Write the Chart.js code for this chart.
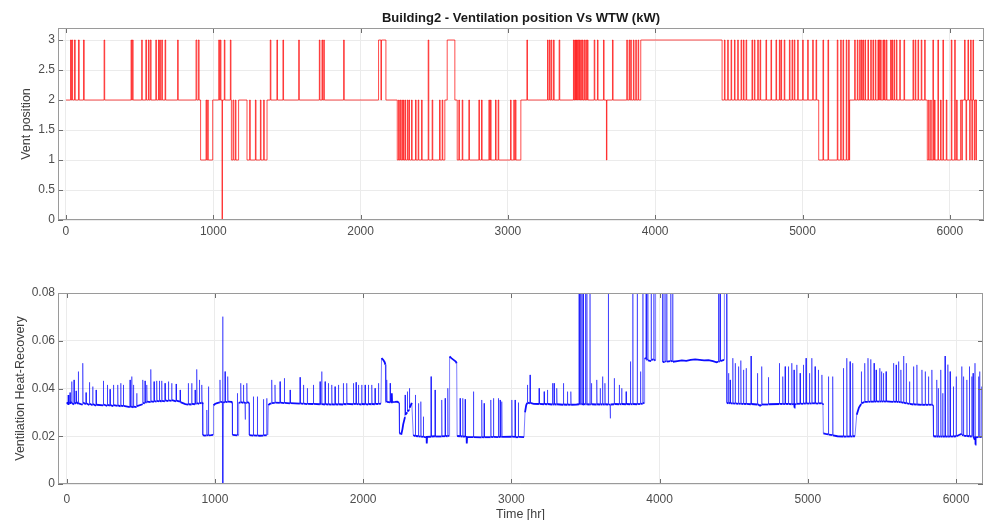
<!DOCTYPE html>
<html>
<head>
<meta charset="utf-8">
<title>Building2 - Ventilation position Vs WTW (kW)</title>
<script src="https://cdn.jsdelivr.net/npm/chart.js@4.4.1/dist/chart.umd.min.js"></script>
<style>
  html, body { margin: 0; padding: 0; background: #fff; overflow: hidden; }
  #wrap { position: relative; width: 985px; height: 520px; }
  #ventChart { position: absolute; left: 0; top: 0; }
  #wtwChart { position: absolute; left: 0; top: 262px; }
</style>
</head>
<body>
<div id="wrap">
  <canvas id="ventChart" width="985" height="262"></canvas>
  <canvas id="wtwChart" width="985" height="270"></canvas>
</div>
<script>
// tick labels
const hourTicks = [0, 1000, 2000, 3000, 4000, 5000, 6000];
const ventTicks = [0, 0.5, 1, 1.5, 2, 2.5, 3];
const wtwTicks = [0, 0.02, 0.04, 0.06, 0.08];

// vent position: [hour, level] – level holds until the next change
const ventSteps = [
  [0, 2], [31, 3], [36, 2], [40, 3], [45, 2], [58, 3], [63, 2], [85, 3], [90, 2], [119, 3], [124, 2],
  [259, 3], [263, 2], [442, 3], [446, 2], [451, 3], [456, 2], [514, 3], [518, 2], [542, 3], [547, 2],
  [560, 3], [564, 2], [573, 3], [578, 2], [610, 3], [614, 2], [628, 3], [632, 2], [637, 3], [641, 2],
  [650, 3], [655, 2], [673, 3], [677, 2], [758, 3], [762, 2], [883, 3], [888, 2], [899, 3], [904, 2],
  [914, 1], [951, 2], [955, 1], [962, 2], [966, 1], [996, 2],
  [1037, 3], [1042, 2], [1048, 3], [1052, 2], [1060, 0], [1062, 2], [1075, 3], [1079, 2], [1116, 3], [1120, 2],
  [1123, 1], [1134, 2], [1139, 1], [1150, 2], [1154, 1], [1172, 2],
  [1229, 1], [1247, 2], [1251, 1], [1286, 2], [1290, 1], [1320, 2], [1324, 1], [1342, 2], [1346, 1], [1365, 2],
  [1387, 3], [1391, 2], [1432, 3], [1436, 2], [1473, 3], [1477, 2], [1580, 3], [1584, 2],
  [1720, 3], [1724, 2], [1738, 3], [1742, 2], [1750, 3], [1754, 2], [1885, 3], [1889, 2],
  [2122, 3], [2138, 2], [2142, 3], [2172, 2],
  [2249, 1], [2258, 2], [2262, 1], [2268, 2], [2272, 1], [2280, 2], [2284, 1], [2290, 2], [2293, 1],
  [2301, 2], [2305, 1], [2317, 2], [2321, 1], [2328, 2], [2332, 1], [2346, 2], [2350, 1], [2373, 2], [2377, 1],
  [2391, 2], [2395, 1], [2414, 2], [2418, 1], [2459, 3], [2463, 1], [2486, 2], [2490, 1], [2536, 2], [2540, 1],
  [2554, 2], [2558, 1], [2572, 2], [2588, 3], [2640, 2], [2656, 1],
  [2667, 2], [2671, 1], [2690, 2], [2694, 1], [2735, 2], [2739, 1], [2803, 2], [2807, 1], [2821, 2], [2825, 1],
  [2871, 2], [2875, 1], [2882, 2], [2886, 1], [2916, 2], [2920, 1], [2934, 2], [2938, 1], [3018, 2], [3022, 1],
  [3040, 2], [3044, 1], [3051, 2], [3055, 1], [3088, 2],
  [3129, 3], [3133, 2], [3269, 3], [3273, 2], [3282, 3], [3286, 2], [3294, 3], [3298, 2], [3310, 3], [3314, 2],
  [3348, 3], [3352, 2], [3445, 3], [3449, 2], [3454, 3], [3458, 2], [3461, 3], [3465, 2], [3468, 3], [3472, 2],
  [3477, 3], [3481, 2], [3486, 3], [3490, 2], [3495, 3], [3499, 2], [3506, 3], [3510, 2], [3518, 3], [3522, 2],
  [3529, 3], [3533, 2], [3540, 3], [3544, 2], [3586, 3], [3590, 2], [3608, 3], [3612, 2], [3649, 3], [3653, 2],
  [3669, 1], [3672, 2], [3710, 3], [3714, 2], [3807, 3], [3811, 2], [3823, 3], [3827, 2], [3834, 3], [3838, 2],
  [3852, 3], [3856, 2], [3868, 3], [3872, 2], [3884, 3], [3888, 2], [3902, 3],
  [4454, 2], [4470, 3], [4474, 2], [4492, 3], [4496, 2], [4515, 3], [4519, 2], [4538, 3], [4542, 2],
  [4560, 3], [4564, 2], [4583, 3], [4587, 2], [4599, 3], [4603, 2], [4617, 3], [4621, 2], [4657, 3], [4661, 2],
  [4673, 3], [4677, 2], [4696, 3], [4700, 2], [4712, 3], [4716, 2], [4752, 3], [4756, 2], [4786, 3], [4790, 2],
  [4820, 3], [4824, 2], [4843, 3], [4847, 2], [4854, 3], [4858, 2], [4876, 3], [4880, 2], [4911, 3], [4915, 2],
  [4929, 3], [4933, 2], [4944, 3], [4948, 2], [4967, 3], [4971, 2], [5001, 3], [5005, 2], [5035, 3], [5039, 2],
  [5069, 3], [5073, 2], [5092, 3], [5096, 2],
  [5110, 1], [5139, 3], [5143, 1], [5173, 3], [5177, 1], [5236, 3], [5240, 1], [5259, 3], [5263, 1],
  [5275, 3], [5279, 1], [5297, 3], [5301, 1], [5313, 3], [5317, 1],
  [5320, 2], [5354, 3], [5358, 2], [5372, 3], [5376, 2], [5388, 3], [5392, 2], [5400, 3], [5404, 2],
  [5410, 3], [5414, 2], [5424, 3], [5428, 2], [5444, 3], [5448, 2], [5463, 3], [5467, 2], [5478, 3], [5482, 2],
  [5494, 3], [5498, 2], [5512, 3], [5516, 2], [5520, 3], [5524, 2], [5530, 3], [5534, 2], [5546, 3], [5550, 2],
  [5556, 3], [5560, 2], [5569, 3], [5573, 2], [5598, 3], [5602, 2], [5607, 3], [5611, 2], [5621, 3], [5625, 2],
  [5637, 3], [5641, 2], [5660, 3], [5664, 2], [5689, 3], [5693, 2], [5750, 3], [5754, 2], [5765, 3], [5769, 2],
  [5784, 3], [5788, 2], [5806, 3], [5810, 2], [5829, 3], [5833, 2],
  [5847, 1], [5856, 2], [5860, 1], [5870, 2], [5874, 1], [5885, 3], [5889, 1], [5896, 2], [5900, 1],
  [5919, 3], [5923, 1], [5937, 2], [5941, 1], [5953, 3], [5957, 1], [5976, 2], [5980, 1], [6010, 3], [6014, 1],
  [6033, 3], [6037, 1], [6046, 2], [6050, 1], [6073, 2], [6081, 1], [6085, 2], [6100, 3], [6104, 2], [6110, 1],
  [6114, 2], [6123, 3], [6127, 2], [6135, 1], [6138, 2], [6141, 3], [6145, 2], [6150, 1], [6153, 2], [6157, 3],
  [6161, 2], [6166, 1], [6170, 2], [6178, 1], [6180, 2], [6184, 2]
];

// WTW heat recovery: [hour, kW]
const wtwSeries = [
  [0, 0.0342], [10, 0.0335], [11, 0.0373], [13, 0.034], [21, 0.0338], [22, 0.0383], [24, 0.0336],
  [33, 0.0345], [34, 0.0429], [36, 0.034], [48, 0.0332], [49, 0.0436], [51, 0.0342], [62, 0.0336],
  [63, 0.039], [65, 0.0344], [77, 0.0335], [78, 0.0471], [80, 0.0338], [107, 0.0332], [108, 0.0506],
  [110, 0.0341], [129, 0.0334], [130, 0.0383], [132, 0.0338], [152, 0.0331], [153, 0.0426], [155, 0.0336],
  [174, 0.033], [175, 0.0408], [177, 0.0335], [197, 0.0328], [198, 0.0394], [200, 0.0332], [246, 0.0329],
  [247, 0.0432], [249, 0.0333], [273, 0.0327], [274, 0.0415], [276, 0.0331], [291, 0.0328], [292, 0.0397],
  [294, 0.033], [314, 0.0326], [315, 0.0415], [317, 0.033], [343, 0.0327], [344, 0.0415], [346, 0.0329],
  [363, 0.0325], [364, 0.0422], [366, 0.0328], [381, 0.0326], [382, 0.0415], [384, 0.0327], [426, 0.0322],
  [427, 0.0436], [429, 0.0326], [438, 0.0321], [439, 0.045], [441, 0.0325], [449, 0.032], [450, 0.0415],
  [452, 0.0324], [471, 0.0322], [472, 0.038], [474, 0.0326], [512, 0.0334], [513, 0.0436], [515, 0.034],
  [527, 0.0338], [528, 0.0432], [530, 0.0343], [539, 0.0341], [540, 0.0415], [542, 0.0345], [566, 0.0343],
  [567, 0.048], [569, 0.0346], [588, 0.0344], [589, 0.0429], [591, 0.0347], [606, 0.0345], [607, 0.0432],
  [609, 0.0348], [624, 0.0346], [625, 0.0432], [627, 0.0349], [640, 0.0345], [641, 0.0432], [643, 0.0348],
  [662, 0.0346], [663, 0.0422], [665, 0.035], [685, 0.0347], [686, 0.0429], [688, 0.035], [707, 0.0348],
  [708, 0.0422], [710, 0.0351], [737, 0.0346], [738, 0.0419], [740, 0.0349], [764, 0.0345], [765, 0.0394],
  [767, 0.0343], [800, 0.0335], [819, 0.0332], [820, 0.0422], [822, 0.0334], [842, 0.0333], [843, 0.0422],
  [845, 0.0336], [865, 0.0334], [866, 0.0394], [868, 0.0337], [876, 0.0336], [877, 0.048], [879, 0.0339],
  [894, 0.0336], [895, 0.0436], [897, 0.034], [910, 0.0338], [911, 0.0415], [913, 0.0341], [916, 0.034],
  [918, 0.0205], [930, 0.0203], [944, 0.0204], [945, 0.031], [947, 0.0205], [955, 0.0203], [956, 0.0408],
  [958, 0.0204], [975, 0.0205], [988, 0.0206], [990, 0.033], [1000, 0.0335], [1010, 0.0338], [1020, 0.034],
  [1033, 0.0342], [1034, 0.0436], [1036, 0.0343], [1050, 0.0344], [1052, 0.0701], [1054, 0], [1056, 0.0343],
  [1067, 0.0342], [1068, 0.0471], [1070, 0.0344], [1085, 0.0343], [1086, 0.045], [1088, 0.0345],
  [1112, 0.0344], [1117, 0.034], [1118, 0.0206], [1135, 0.0205], [1150, 0.0204], [1151, 0.038],
  [1153, 0.0205], [1158, 0.0206], [1160, 0.034], [1173, 0.0342], [1174, 0.0422], [1176, 0.0343],
  [1191, 0.034], [1192, 0.0415], [1194, 0.0342], [1203, 0.034], [1204, 0.027], [1206, 0.0338],
  [1214, 0.0341], [1215, 0.0422], [1217, 0.0343], [1230, 0.034],
  [1232, 0.0205], [1245, 0.0204], [1258, 0.0203], [1259, 0.0366], [1261, 0.0204], [1285, 0.0203],
  [1286, 0.0366], [1288, 0.0204], [1300, 0.0202], [1326, 0.0203], [1327, 0.0355], [1329, 0.0204],
  [1349, 0.0204], [1350, 0.0359], [1352, 0.0205], [1357, 0.0205],
  [1360, 0.033], [1370, 0.0336], [1382, 0.0338], [1383, 0.0436], [1385, 0.0339], [1404, 0.034],
  [1405, 0.0415], [1407, 0.0341], [1438, 0.034], [1439, 0.0429], [1441, 0.0341], [1467, 0.0339],
  [1468, 0.0443], [1470, 0.034], [1506, 0.0338], [1507, 0.0394], [1509, 0.0339], [1573, 0.0337],
  [1574, 0.0447], [1576, 0.0338], [1596, 0.0336], [1597, 0.0415], [1599, 0.0337], [1622, 0.0335],
  [1623, 0.0401], [1625, 0.0336], [1663, 0.0335], [1664, 0.0415], [1666, 0.0336], [1708, 0.0334],
  [1709, 0.0429], [1711, 0.0335], [1719, 0.0334], [1720, 0.0471], [1722, 0.0335], [1742, 0.0333],
  [1743, 0.0429], [1745, 0.0335], [1764, 0.0333], [1765, 0.0422], [1767, 0.0334], [1787, 0.0332],
  [1788, 0.0415], [1790, 0.0334], [1809, 0.0332], [1810, 0.0408], [1812, 0.0334], [1832, 0.0333],
  [1833, 0.0415], [1835, 0.0334], [1865, 0.0333], [1866, 0.0422], [1868, 0.0335], [1888, 0.0334],
  [1889, 0.0422], [1891, 0.0336], [1933, 0.0334], [1934, 0.0422], [1936, 0.0336], [1951, 0.0335],
  [1952, 0.0426], [1954, 0.0336], [1967, 0.0334], [1968, 0.0415], [1970, 0.0335], [1989, 0.0333],
  [1990, 0.0415], [1992, 0.0335], [2012, 0.0334], [2013, 0.0415], [2015, 0.0335], [2034, 0.0333],
  [2035, 0.0415], [2037, 0.0335], [2057, 0.0334], [2058, 0.0415], [2060, 0.0335], [2079, 0.0334],
  [2080, 0.0401], [2082, 0.0336], [2102, 0.0335], [2103, 0.0422], [2105, 0.0336], [2120, 0.0337],
  [2124, 0.0527], [2135, 0.052], [2145, 0.051], [2150, 0.05], [2153, 0.0345], [2158, 0.0343],
  [2159, 0.0436], [2161, 0.0344], [2181, 0.0342], [2182, 0.0422], [2184, 0.0343], [2192, 0.0342],
  [2193, 0.038], [2195, 0.0343], [2215, 0.0344], [2230, 0.0345], [2242, 0.034],
  [2245, 0.0212], [2258, 0.021], [2265, 0.023], [2270, 0.025], [2282, 0.028], [2283, 0.0373],
  [2285, 0.029], [2297, 0.03], [2298, 0.0387], [2300, 0.0305], [2311, 0.031], [2312, 0.0401],
  [2314, 0.032], [2328, 0.034], [2338, 0.0205],
  [2351, 0.02], [2352, 0.0373], [2354, 0.0201], [2372, 0.02], [2373, 0.0338], [2375, 0.0199],
  [2388, 0.0199], [2389, 0.0345], [2391, 0.0198], [2405, 0.0198], [2406, 0.0282], [2408, 0.0197],
  [2428, 0.0195], [2429, 0.017], [2431, 0.0197], [2457, 0.0198], [2458, 0.045], [2460, 0.0199],
  [2484, 0.02], [2485, 0.0394], [2487, 0.0199], [2529, 0.0199], [2530, 0.0352], [2532, 0.02],
  [2552, 0.02], [2553, 0.0359], [2555, 0.0201], [2570, 0.02], [2571, 0.0401], [2573, 0.0201], [2580, 0.0202],
  [2583, 0.0534], [2595, 0.0527], [2610, 0.052], [2625, 0.0513], [2631, 0.0505],
  [2634, 0.0201], [2653, 0.02], [2654, 0.0359], [2656, 0.02], [2671, 0.0199], [2672, 0.0359],
  [2674, 0.0199], [2687, 0.0198], [2688, 0.0355], [2690, 0.0198], [2698, 0.0197], [2699, 0.017],
  [2701, 0.0197], [2743, 0.0196], [2744, 0.0387], [2746, 0.0196], [2799, 0.0195], [2800, 0.0352],
  [2802, 0.0196], [2815, 0.0195], [2816, 0.0338], [2818, 0.0196], [2860, 0.0196], [2861, 0.0352],
  [2863, 0.0197], [2878, 0.0196], [2879, 0.0359], [2881, 0.0197], [2911, 0.0196], [2912, 0.0359],
  [2914, 0.0197], [2923, 0.0196], [2924, 0.0352], [2926, 0.0197], [2934, 0.0196], [2935, 0.0345],
  [2937, 0.0197], [3002, 0.0198], [3003, 0.0352], [3005, 0.0198], [3024, 0.0197], [3025, 0.0352],
  [3027, 0.0196], [3046, 0.0196], [3047, 0.0341], [3049, 0.0197], [3085, 0.0196],
  [3092, 0.03], [3100, 0.033], [3107, 0.034], [3108, 0.0415], [3110, 0.0341], [3125, 0.0338],
  [3126, 0.0457], [3128, 0.034], [3150, 0.0336], [3186, 0.0335], [3187, 0.0401], [3189, 0.0336],
  [3220, 0.0334], [3221, 0.0387], [3223, 0.0335], [3242, 0.0334], [3243, 0.0394], [3245, 0.0335],
  [3276, 0.0333], [3277, 0.0422], [3279, 0.0334], [3287, 0.0333], [3288, 0.0422], [3290, 0.0334],
  [3305, 0.0333], [3306, 0.0401], [3308, 0.0334], [3350, 0.0332], [3351, 0.0422], [3353, 0.0333],
  [3377, 0.0332], [3378, 0.0387], [3380, 0.0333], [3400, 0.0331], [3401, 0.0387], [3403, 0.0332],
  [3440, 0.0333], [3456, 0.0334], [3457, 0.15], [3459, 0.0334], [3465, 0.0335], [3466, 0.15],
  [3468, 0.0335], [3474, 0.0334], [3475, 0.15], [3477, 0.0335], [3483, 0.0334], [3484, 0.15],
  [3486, 0.0335], [3499, 0.0334], [3500, 0.15], [3502, 0.0334], [3508, 0.0333], [3509, 0.15],
  [3511, 0.0334], [3529, 0.0333], [3530, 0.15], [3532, 0.0334], [3539, 0.0333], [3540, 0.0422],
  [3542, 0.0334], [3575, 0.0333], [3576, 0.0436], [3578, 0.0334], [3598, 0.0333], [3599, 0.0401],
  [3601, 0.0334], [3614, 0.0333], [3615, 0.045], [3617, 0.0334], [3630, 0.0333], [3631, 0.0422],
  [3633, 0.0334], [3653, 0.0333], [3654, 0.15], [3656, 0.0334], [3666, 0.0332], [3667, 0.0275],
  [3669, 0.0333], [3693, 0.0334], [3694, 0.0443], [3696, 0.0335], [3727, 0.0334], [3728, 0.0415],
  [3730, 0.0335], [3743, 0.0334], [3744, 0.0401], [3746, 0.0335], [3773, 0.0334], [3774, 0.0387],
  [3776, 0.0335], [3802, 0.0334], [3803, 0.0513], [3805, 0.0335], [3818, 0.0334], [3819, 0.15],
  [3821, 0.0335], [3848, 0.0334], [3849, 0.15], [3851, 0.0335], [3870, 0.0335], [3871, 0.0471],
  [3873, 0.0336], [3886, 0.0336], [3887, 0.15], [3889, 0.0337], [3896, 0.034],
  [3899, 0.0527], [3908, 0.0525], [3909, 0.15], [3911, 0.0522], [3919, 0.052], [3920, 0.15],
  [3922, 0.0518], [3942, 0.0515], [3943, 0.15], [3945, 0.052], [3960, 0.0522], [3961, 0.15],
  [3963, 0.0518], [3972, 0.052], [3973, 0.15], [4020, 0.15], [4022, 0.051], [4034, 0.0512],
  [4036, 0.15], [4038, 0.0512], [4046, 0.0514], [4048, 0.15], [4050, 0.0513], [4073, 0.0515],
  [4075, 0.15], [4077, 0.0514], [4086, 0.0516], [4088, 0.15], [4090, 0.0512], [4120, 0.0515],
  [4150, 0.0518], [4180, 0.0516], [4210, 0.052], [4240, 0.0522], [4270, 0.052], [4300, 0.0518],
  [4330, 0.0519], [4360, 0.0515], [4385, 0.051], [4396, 0.0512], [4397, 0.15], [4399, 0.0512],
  [4406, 0.0514], [4408, 0.15], [4410, 0.0515], [4435, 0.052], [4437, 0.15], [4449, 0.15], [4454, 0.034],
  [4464, 0.0338], [4465, 0.0464], [4467, 0.034], [4475, 0.0338], [4476, 0.0436], [4478, 0.0339],
  [4493, 0.0337], [4494, 0.0527], [4496, 0.0338], [4509, 0.0337], [4510, 0.0506], [4512, 0.0338],
  [4531, 0.0336], [4532, 0.0492], [4534, 0.0337], [4547, 0.0336], [4548, 0.0517], [4550, 0.0337],
  [4565, 0.0335], [4566, 0.0478], [4568, 0.0336], [4583, 0.0335], [4584, 0.0485], [4586, 0.0336],
  [4616, 0.0334], [4617, 0.0536], [4619, 0.0335], [4659, 0.0333], [4660, 0.0464], [4662, 0.0334],
  [4678, 0.0328], [4688, 0.0332], [4689, 0.0492], [4691, 0.0333], [4733, 0.0333], [4734, 0.0447],
  [4736, 0.0334], [4807, 0.0335], [4808, 0.0506], [4810, 0.0336], [4830, 0.0335], [4831, 0.045],
  [4833, 0.0336], [4846, 0.0335], [4847, 0.0492], [4849, 0.0336], [4868, 0.0335], [4869, 0.0492],
  [4871, 0.0336], [4891, 0.0334], [4892, 0.0506], [4894, 0.0335], [4906, 0.0334], [4907, 0.0478],
  [4909, 0.032], [4911, 0.0334], [4924, 0.0335], [4925, 0.0499], [4927, 0.0336], [4947, 0.0336],
  [4948, 0.0464], [4950, 0.0337], [4969, 0.0336], [4970, 0.0499], [4972, 0.0337], [4987, 0.0337],
  [4988, 0.0527], [4990, 0.0338], [5010, 0.0337], [5011, 0.0464], [5013, 0.0338], [5026, 0.0337],
  [5027, 0.0527], [5029, 0.0338], [5048, 0.0338], [5049, 0.0492], [5051, 0.0338], [5070, 0.0337],
  [5071, 0.0478], [5073, 0.0338], [5094, 0.0338], [5095, 0.0457], [5097, 0.0337], [5102, 0.0336],
  [5105, 0.0212], [5120, 0.021], [5138, 0.0208], [5139, 0.045], [5141, 0.0207], [5167, 0.0205],
  [5168, 0.045], [5170, 0.0204], [5200, 0.02], [5239, 0.0199], [5240, 0.0485], [5242, 0.0199],
  [5262, 0.0198], [5263, 0.0527], [5265, 0.0199], [5284, 0.0199], [5285, 0.0513], [5287, 0.0199],
  [5302, 0.0199], [5303, 0.0506], [5305, 0.02], [5318, 0.02],
  [5330, 0.029], [5345, 0.032], [5360, 0.0335], [5361, 0.0471], [5363, 0.0338], [5376, 0.0342],
  [5383, 0.0343], [5384, 0.0506], [5386, 0.0344], [5405, 0.0344], [5406, 0.0527], [5408, 0.0345],
  [5423, 0.0344], [5424, 0.0522], [5426, 0.0345], [5446, 0.0345], [5447, 0.0506], [5449, 0.0345],
  [5460, 0.0345], [5461, 0.0478], [5463, 0.0346], [5484, 0.0345], [5485, 0.0485], [5487, 0.0346],
  [5496, 0.0345], [5497, 0.0471], [5499, 0.0346], [5509, 0.0345], [5510, 0.0464], [5512, 0.0346],
  [5527, 0.0345], [5528, 0.0471], [5530, 0.0346], [5577, 0.0344], [5578, 0.0506], [5580, 0.0345],
  [5595, 0.0344], [5596, 0.0499], [5598, 0.0345], [5611, 0.0343], [5612, 0.0513], [5614, 0.0344],
  [5627, 0.0342], [5628, 0.0478], [5630, 0.0343], [5645, 0.034], [5646, 0.0536], [5648, 0.0341],
  [5663, 0.0338], [5664, 0.0506], [5666, 0.0339], [5685, 0.0335], [5686, 0.0429], [5688, 0.0336],
  [5712, 0.0333], [5713, 0.0492], [5715, 0.0334], [5735, 0.0332], [5736, 0.0499], [5738, 0.0333],
  [5769, 0.0331], [5770, 0.0478], [5772, 0.0332], [5791, 0.0331], [5792, 0.0471], [5794, 0.0332],
  [5813, 0.0331], [5814, 0.045], [5816, 0.0332], [5836, 0.0332], [5837, 0.0478], [5839, 0.0331], [5845, 0.033],
  [5848, 0.02], [5869, 0.0199], [5870, 0.0436], [5872, 0.0199], [5879, 0.0199], [5880, 0.0401],
  [5882, 0.0199], [5896, 0.0198], [5897, 0.0478], [5899, 0.0199], [5909, 0.0198], [5910, 0.038],
  [5912, 0.0199], [5925, 0.0198], [5926, 0.0536], [5928, 0.0199], [5944, 0.0198], [5945, 0.05],
  [5947, 0.0199], [5959, 0.0198], [5960, 0.0471], [5962, 0.0199], [5981, 0.0199], [5982, 0.0408],
  [5984, 0.0199], [6000, 0.02], [6001, 0.045], [6003, 0.02], [6020, 0.0205], [6038, 0.021],
  [6039, 0.0492], [6041, 0.0206], [6049, 0.0204], [6050, 0.045], [6052, 0.0203], [6060, 0.0202],
  [6072, 0.0201], [6073, 0.0436], [6075, 0.0201], [6089, 0.02], [6090, 0.0492], [6092, 0.02],
  [6106, 0.0199], [6107, 0.045], [6109, 0.0199], [6114, 0.0199], [6115, 0.0464], [6117, 0.0199],
  [6127, 0.0185], [6128, 0.0506], [6130, 0.0165], [6132, 0.0195], [6151, 0.0196], [6152, 0.045],
  [6154, 0.0196], [6159, 0.0196], [6160, 0.0471], [6162, 0.0196], [6173, 0.0197], [6174, 0.0408],
  [6176, 0.0196], [6183, 0.0195]
];

Chart.defaults.font.family = '"Liberation Sans", Arial, Helvetica, sans-serif';
Chart.defaults.color = '#4d4d4d';

const GRID = '#ebebeb';

// replace generated ticks with the fixed tick list
function fixedTicks(values) {
  return scale => { scale.ticks = values.map(v => ({ value: v })); };
}

// MATLAB style box with inward tick marks on all four sides
const boxFrame = {
  id: 'boxFrame',
  afterDatasetsDraw(chart) {
    const { ctx, chartArea: a, scales } = chart;
    const len = 5;
    ctx.save();
    ctx.lineWidth = 1;
    ctx.strokeStyle = '#6e6e6e';
    ctx.beginPath();
    scales.x.ticks.forEach(t => {
      const px = Math.round(scales.x.getPixelForValue(t.value)) + 0.5;
      ctx.moveTo(px, a.bottom); ctx.lineTo(px, a.bottom - len);
      ctx.moveTo(px, a.top); ctx.lineTo(px, a.top + len);
    });
    scales.y.ticks.forEach(t => {
      const py = Math.round(scales.y.getPixelForValue(t.value)) + 0.5;
      ctx.moveTo(a.left, py); ctx.lineTo(a.left + len, py);
      ctx.moveTo(a.right, py); ctx.lineTo(a.right - len, py);
    });
    ctx.stroke();
    ctx.strokeStyle = '#9a9a9a';
    ctx.strokeRect(Math.round(a.left) + 0.5, Math.round(a.top) + 0.5,
      Math.round(a.right - a.left) - 1, Math.round(a.bottom - a.top) - 1);
    ctx.restore();
  }
};

// bold heading centred over the plot area
const heading = {
  id: 'heading',
  afterDraw(chart, args, opts) {
    const { ctx, chartArea: a } = chart;
    ctx.save();
    ctx.font = 'bold 13px "Liberation Sans", Arial, sans-serif';
    ctx.fillStyle = '#1a1a1a';
    ctx.textAlign = 'center';
    ctx.textBaseline = 'middle';
    ctx.fillText(opts.text, (a.left + a.right) / 2, 18);
    ctx.restore();
  }
};

function xScale(min, max, labelPad, title) {
  return {
    type: 'linear',
    min: min,
    max: max,
    afterBuildTicks: fixedTicks(hourTicks),
    grid: { color: GRID, drawTicks: false },
    border: { display: false },
    ticks: { padding: labelPad, font: { size: 12 }, callback: v => String(v), maxRotation: 0 },
    title: title
  };
}

function yScale(max, ticks, titleText, titlePad) {
  return {
    min: 0,
    max: max,
    afterBuildTicks: fixedTicks(ticks),
    afterFit: s => { s.width = 58; },
    grid: { color: GRID, drawTicks: false },
    border: { display: false },
    ticks: { padding: 3, font: { size: 12 }, callback: v => String(v) },
    title: { display: true, text: titleText, color: '#404040', font: { size: 12.5 }, padding: { top: titlePad, bottom: 0 } }
  };
}

// steep jumps are drawn fainter than the running level
const isJump = c => Math.abs(c.p1.parsed.y - c.p0.parsed.y) > 0.004;

new Chart(document.getElementById('ventChart'), {
  type: 'line',
  data: {
    datasets: [{
      data: ventSteps.map(([x, y]) => ({ x, y })),
      stepped: true,
      borderColor: 'rgba(255, 0, 0, 0.7)',
      borderWidth: 1,
      pointRadius: 0
    }]
  },
  options: {
    responsive: false,
    animation: false,
    devicePixelRatio: 1,
    layout: { padding: { top: 28, right: 1, left: 0, bottom: 0 } },
    scales: {
      x: Object.assign(xScale(-54, 6232, 4, { display: false }), { afterFit: s => { s.height = 42; } }),
      y: yScale(3.2, ventTicks, 'Vent position', 19.5)
    },
    plugins: {
      legend: { display: false },
      tooltip: { enabled: false },
      heading: { text: 'Building2 - Ventilation position Vs WTW (kW)' }
    }
  },
  plugins: [boxFrame, heading]
});

new Chart(document.getElementById('wtwChart'), {
  type: 'line',
  data: {
    datasets: [{
      data: wtwSeries.map(([x, y]) => ({ x, y })),
      borderColor: 'rgba(0, 0, 255, 0.9)',
      borderWidth: 1,
      pointRadius: 0,
      segment: {
        borderColor: c => isJump(c) ? 'rgba(0, 0, 255, 0.5)' : 'rgba(0, 0, 255, 0.95)',
        borderWidth: c => isJump(c) ? 1 : 1.8
      }
    }]
  },
  options: {
    responsive: false,
    animation: false,
    devicePixelRatio: 1,
    layout: { padding: { top: 31, right: 2, left: 0, bottom: 0 } },
    scales: {
      x: Object.assign(
        xScale(-59, 6182, 8, { display: true, text: 'Time [hr]', color: '#404040', font: { size: 12.5 }, padding: { top: 0, bottom: 10 } }),
        { afterFit: s => { s.height = 48; } }
      ),
      y: yScale(0.08, wtwTicks, 'Ventilation Heat-Recovery', 13.5)
    },
    plugins: {
      legend: { display: false },
      tooltip: { enabled: false }
    }
  },
  plugins: [boxFrame]
});
</script>
</body>
</html>
